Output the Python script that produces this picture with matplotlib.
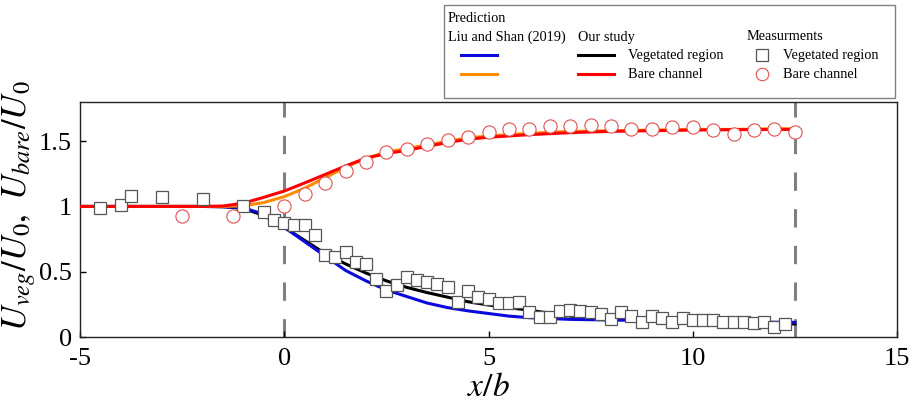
import numpy as np
import matplotlib
matplotlib.use('Agg')
import matplotlib.pyplot as plt
from matplotlib.lines import Line2D
from matplotlib.patches import Rectangle

plt.rcParams.update({
    'font.family': ['Liberation Serif', 'DejaVu Serif'],
    'mathtext.fontset': 'stix',
})

# --- predictions (curves) ---
x_curve = [-5, -2, -1.5, -1, -0.5, 0, 0.5, 1, 1.5, 2, 2.5, 3, 3.5, 4, 4.5, 5,
           5.5, 6, 7, 8, 9, 10, 11, 12, 12.5]
ours_bare = [1.0, 1.0, 1.003, 1.025, 1.07, 1.118, 1.18, 1.245, 1.31, 1.37, 1.405,
             1.43, 1.46, 1.49, 1.515, 1.53, 1.54, 1.55, 1.565, 1.575, 1.58,
             1.585, 1.588, 1.59, 1.59]
liu_bare = [1.0, 1.0, 1.0, 1.005, 1.03, 1.075, 1.14, 1.22, 1.30, 1.37, 1.415,
            1.445, 1.47, 1.50, 1.525, 1.54, 1.55, 1.56, 1.575, 1.58, 1.585,
            1.59, 1.59, 1.595, 1.595]
ours_veg = [1.0, 1.0, 0.998, 0.985, 0.93, 0.84, 0.74, 0.64, 0.56, 0.49, 0.43,
            0.38, 0.34, 0.305, 0.27, 0.245, 0.225, 0.205, 0.16, 0.14, 0.125,
            0.11, 0.105, 0.1, 0.1]
liu_veg = [1.0, 1.0, 0.998, 0.99, 0.94, 0.84, 0.73, 0.62, 0.51, 0.43, 0.36,
           0.31, 0.26, 0.225, 0.2, 0.18, 0.16, 0.148, 0.135, 0.13, 0.125,
           0.12, 0.117, 0.113, 0.112]

# --- measurements ---
x_meas_veg = [-4.5, -4, -3.75, -3, -2, -1, -0.5, -0.25, 0, 0.25, 0.5, 0.75,
              1, 1.25, 1.5, 1.75, 2, 2.25, 2.5, 2.75, 3, 3.25, 3.5, 3.75, 4,
              4.25, 4.5, 4.75, 5, 5.25, 5.5, 5.75, 6, 6.25, 6.5, 6.75, 7, 7.25,
              7.5, 7.75, 8, 8.25, 8.5, 8.75, 9, 9.25, 9.5, 9.75, 10, 10.25, 10.5,
              10.75, 11, 11.25, 11.5, 11.75, 12, 12.25]
meas_veg = [0.99, 1.01, 1.08, 1.075, 1.057, 1.005, 0.954, 0.898, 0.87, 0.86,
            0.86, 0.78, 0.63, 0.615, 0.65, 0.577, 0.56, 0.444, 0.354, 0.40,
            0.457, 0.436, 0.423, 0.405, 0.385, 0.27, 0.354, 0.31, 0.29, 0.257,
            0.257, 0.265, 0.188, 0.154, 0.154, 0.2, 0.205, 0.198, 0.192, 0.18,
            0.136, 0.192, 0.16, 0.115, 0.16, 0.146, 0.115, 0.146, 0.13, 0.134,
            0.128, 0.115, 0.115, 0.115, 0.108, 0.115, 0.077, 0.098]
x_meas_bare = [-2.5, -1.25, 0, 0.5, 1, 1.5, 2, 2.5, 3, 3.5, 4, 4.5, 5, 5.5, 6,
               6.5, 7, 7.5, 8, 8.5, 9, 9.5, 10, 10.5, 11, 11.5, 12, 12.5]
meas_bare = [0.93, 0.93, 1.0, 1.095, 1.18, 1.27, 1.34, 1.42, 1.44, 1.48, 1.51,
             1.535, 1.57, 1.59, 1.59, 1.615, 1.615, 1.62, 1.615, 1.595, 1.59,
             1.61, 1.61, 1.585, 1.557, 1.585, 1.59, 1.57]

region_edges = [0, 12.5]
x_ticks = [-5, 0, 5, 10, 15]
x_ticklabels = ['-5', '0', '5', '10', '15']
y_ticks = [0, 0.5, 1, 1.5]
y_ticklabels = ['0', '0.5', '1', '1.5']

C_BLUE = '#0a0adf'
C_ORANGE = '#ff8c00'
C_RED = '#ff0000'
C_SQ = '#555555'
C_CIRC = '#e05050'

W, H = 915, 403
fig = plt.figure(figsize=(W / 100, H / 100), dpi=100)
ax = fig.add_axes([80 / W, 1 - 337 / H, 817 / W, 235 / H])

for xe in region_edges:
    ax.plot([xe, xe], [0, 1.8], color='#7f7f7f', lw=2.2,
            linestyle=(0, (6, 6)), zorder=1)

ax.plot(x_curve, ours_veg, color='black', lw=2.2, zorder=2)
ax.plot(x_curve, liu_veg, color=C_BLUE, lw=2.2, zorder=2)
ax.plot(x_curve, liu_bare, color=C_ORANGE, lw=2.2, zorder=3)
ax.plot(x_curve, ours_bare, color=C_RED, lw=2.2, zorder=3)

ax.plot(x_meas_veg, meas_veg, 's', ms=8.5, mfc='white', mec=C_SQ, mew=0.9,
        zorder=4)
ax.plot(x_meas_bare, meas_bare, 'o', ms=9.5, mfc='white', mec=C_CIRC,
        mew=0.8, zorder=4)

ax.set_xlim(-5, 15)
ax.set_ylim(0, 1.8)
ax.set_xticks(x_ticks)
ax.set_xticklabels(x_ticklabels)
ax.set_yticks(y_ticks)
ax.set_yticklabels(y_ticklabels)
ax.tick_params(direction='in', length=4, width=1, labelsize=19)
ax.tick_params(axis='x', pad=8)
ax.tick_params(axis='y', pad=6)
for sp in ax.spines.values():
    sp.set_linewidth(1.0)
    sp.set_color('#222222')

ax.set_xlabel('$x/b$', fontsize=24)
ax.xaxis.set_label_coords(0.5, -0.15)
ax.set_ylabel('$U_{veg}/U_0,\\ U_{bare}/U_0$', fontsize=25)
ax.yaxis.set_label_coords(-0.051, 0.56)

# --- legend box (figure pixel coords) ---
def fx(px):
    return px / W

def fy(py):
    return 1 - py / H

fig.add_artist(Rectangle((fx(444), fy(98)), fx(895) - fx(444), fy(5) - fy(98),
                         transform=fig.transFigure, fill=False,
                         edgecolor='#808080', lw=1.0))
fs = 10.3
fig.text(fx(448), fy(18), 'Prediction', fontsize=fs, va='center')
fig.text(fx(448), fy(37), 'Liu and Shan (2019)', fontsize=fs, va='center')
fig.text(fx(578), fy(37), 'Our study', fontsize=fs, va='center')
fig.text(fx(747), fy(37), 'Measurments', fontsize=fs, va='center')
for py, c1, c2, lab in [(55, C_BLUE, 'black', 'Vegetated region'),
                        (74, C_ORANGE, C_RED, 'Bare channel')]:
    fig.add_artist(Line2D([fx(461), fx(497)], [fy(py), fy(py)], color=c1,
                          lw=2.2, transform=fig.transFigure))
    fig.add_artist(Line2D([fx(578), fx(614)], [fy(py), fy(py)], color=c2,
                          lw=2.2, transform=fig.transFigure))
    fig.text(fx(628), fy(py), lab, fontsize=fs, va='center')
    fig.text(fx(783), fy(py), lab, fontsize=fs, va='center')
fig.add_artist(Line2D([fx(762)], [fy(55)], marker='s', ms=8, mfc='white',
                      mec=C_SQ, mew=0.9, transform=fig.transFigure))
fig.add_artist(Line2D([fx(762)], [fy(74)], marker='o', ms=9, mfc='white',
                      mec=C_CIRC, mew=0.8, transform=fig.transFigure))

fig.savefig('out.png', dpi=100)
